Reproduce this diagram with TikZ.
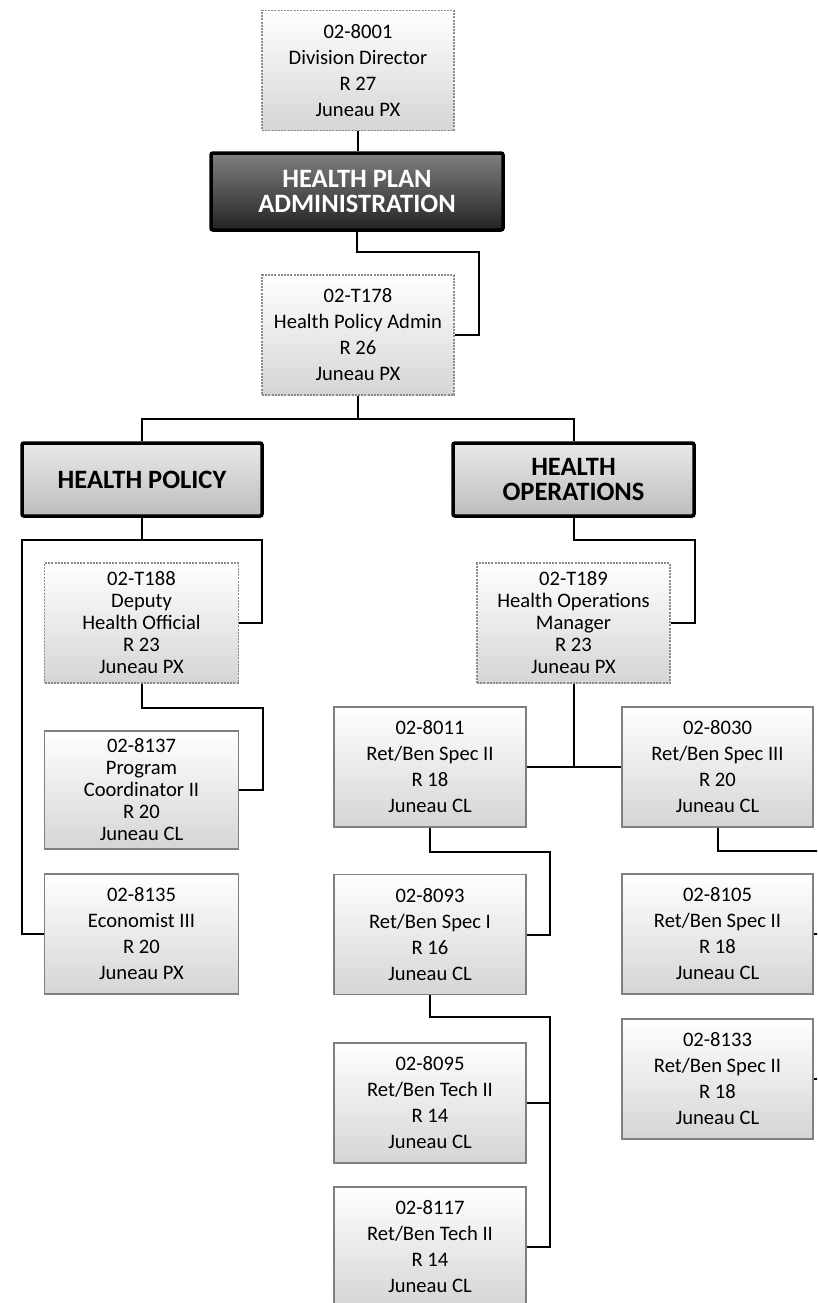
\documentclass[tikz,border=0pt]{standalone}
\usepackage{fontspec}
\setmainfont{Carlito}
\usetikzlibrary{calc}
\definecolor{boxline}{HTML}{7F7F7F}
\definecolor{dotline}{HTML}{8C8C8C}
\definecolor{boxbot}{HTML}{D5D5D5}
\definecolor{hdtop}{HTML}{E9E9E9}
\definecolor{hdbot}{HTML}{BDBDBD}
\definecolor{darktop}{HTML}{808080}
\definecolor{darkbot}{HTML}{232323}

\begin{document}
\begin{tikzpicture}[x=1pt,y=-1pt,
  post/.style={draw=boxline,line width=1.4pt,top color=white,bottom color=boxbot,
    minimum width=192pt,minimum height=120pt,inner sep=0pt,align=center,
    font=\fontsize{20.6}{26}\selectfont},
  vacant/.style={post,draw=dotline,dash pattern=on 2pt off 1.2pt,line width=1.2pt},
  tight/.style={font=\fontsize{20.6}{22}\selectfont},
  unit/.style={draw=black,line width=3.5pt,rounded corners=2pt,top color=hdtop,
    bottom color=hdbot,minimum height=73pt,inner sep=0pt,align=center,
    font=\bfseries\fontsize{26.5}{24.5}\selectfont},
  division/.style={unit,top color=darktop,bottom color=darkbot,text=white},
  link/.style={line width=2pt}]
\useasboundingbox (0,0) rectangle (817,1303);
\clip (0,0) rectangle (817,1303);

\node[vacant] (d8001) at (358,70.5) {02-8001\\Division Director\\R 27\\Juneau PX};
\node[division,minimum width=292pt,minimum height=77pt] (hpa) at (357,191.5) {HEALTH PLAN\\ADMINISTRATION};
\node[vacant] (t178) at (358,335) {02-T178\\Health Policy Admin\\R 26\\Juneau PX};
\node[unit,minimum width=240pt] (hpol) at (142,479.5) {HEALTH POLICY};
\node[unit,minimum width=241pt] (hops) at (573.5,479.5) {HEALTH\\OPERATIONS};

\node[vacant,tight,minimum width=194pt] (t188) at (141.5,623) {02-T188\\Deputy\\Health Official\\R 23\\Juneau PX};
\node[post,tight,minimum width=194pt,minimum height=118pt] (p8137) at (141.5,790) {02-8137\\Program\\Coordinator II\\R 20\\Juneau CL};
\node[post,minimum width=194pt] (e8135) at (141.5,934) {02-8135\\Economist III\\R 20\\Juneau PX};

\node[vacant,tight,minimum width=193pt] (t189) at (573.5,623) {02-T189\\Health Operations\\Manager\\R 23\\Juneau PX};
\node[post] (r8011) at (430,767) {02-8011\\Ret/Ben Spec II\\R 18\\Juneau CL};
\node[post,minimum width=191pt] (r8030) at (717.5,767) {02-8030\\Ret/Ben Spec III\\R 20\\Juneau CL};
\node[post] (r8093) at (430,934.5) {02-8093\\Ret/Ben Spec I\\R 16\\Juneau CL};
\node[post,minimum width=191pt] (r8105) at (717.5,934) {02-8105\\Ret/Ben Spec II\\R 18\\Juneau CL};
\node[post] (r8095) at (430,1103) {02-8095\\Ret/Ben Tech II\\R 14\\Juneau CL};
\node[post,minimum width=191pt] (r8133) at (717.5,1079) {02-8133\\Ret/Ben Spec II\\R 18\\Juneau CL};
\node[post] (r8117) at (430,1247) {02-8117\\Ret/Ben Tech II\\R 14\\Juneau CL};

\draw[link] (d8001.south) -- (d8001.south |- hpa.north);
\draw[link] (hpa.south) -- ++(0,20) -| ($(t178.east)+(24,0)$) -- (t178.east);
\draw[link] (t178.south) -- ++(0,23) coordinate (pbus);
\draw[link] (hpol.north) |- (pbus) -| (hops.north);

\draw[link] (hpol.south) -- ++(0,22) coordinate (polbus);
\draw[link] (e8135.west) -| ($(polbus)+(-120,0)$) -- ($(polbus)+(120,0)$) |- (t188.east);
\draw[link] (t188.south) -- ++(0,24) -| ($(p8137.east)+(24,0)$) -- (p8137.east);

\draw[link] (hops.south) -- ++(0,22) -| ($(t189.east)+(24,0)$) -- (t189.east);
\draw[link] (t189.south) -- (t189.south |- r8011.east);
\draw[link] (r8011.east) -- (r8030.west);
\draw[link] (r8011.south) -- ++(0,24) -| ($(r8093.east)+(23,0)$) -- (r8093.east);
\draw[link] (r8093.south) -- ++(0,22) -| ($(r8117.east)+(23,0)$) -- (r8117.east);
\draw[link] (r8095.east) -- ++(23,0);

\coordinate (rbus) at (840,851);
\draw[link] (r8030.south) |- (rbus) -- (rbus |- r8133.east) -- (r8133.east);
\draw[link] (r8105.east) -- (rbus |- r8105.east);
\end{tikzpicture}
\end{document}
